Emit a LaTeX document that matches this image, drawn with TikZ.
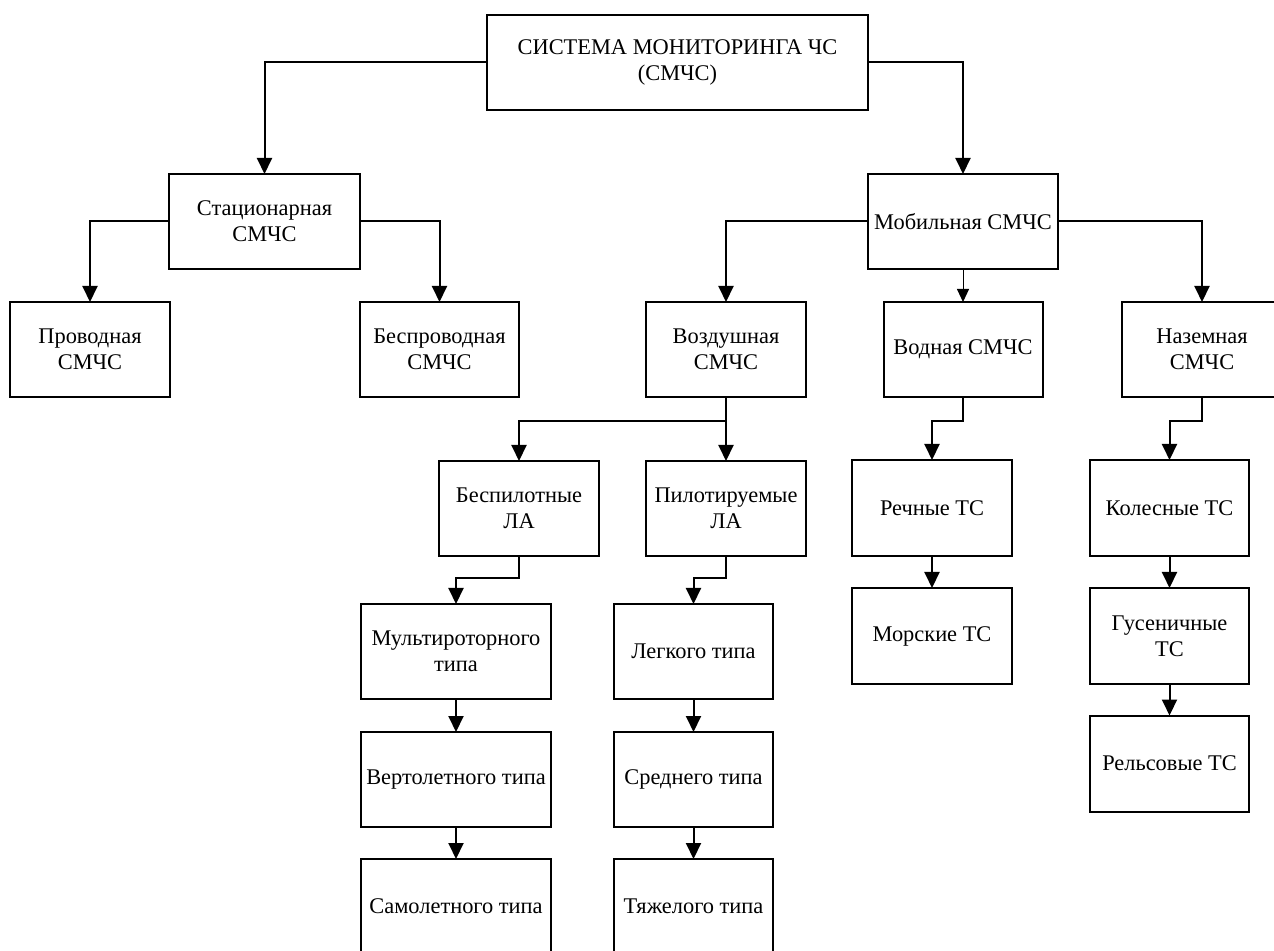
\documentclass[tikz,border=0pt]{standalone}
\usepackage{fontspec}
\setmainfont{Liberation Serif}
\usetikzlibrary{arrows.meta}
\begin{document}
\begin{tikzpicture}[x=0.5pt,y=-0.5pt,
  box/.style={draw, line width=1pt, inner sep=0pt, outer sep=0pt, align=center,
    font=\fontsize{11.2}{13}\selectfont},
  sz/.style 2 args={minimum width=#1*0.5pt, minimum height=#2*0.5pt},
  conn/.style={line width=1pt, -{Triangle[width=7.5pt,length=8pt]}},
  thinconn/.style={line width=0.5pt, -{Triangle[width=6pt,length=6.5pt]}}]
\useasboundingbox (0,0) rectangle (1274,951);
% level 0
\node[box, sz={381}{95}] (top) at (677.5,62.5) {СИСТЕМА МОНИТОРИНГА ЧС\\(СМЧС)};
% level 1
\node[box, sz={191}{95}] (stat) at (264.5,221.5) {Стационарная\\СМЧС};
\node[box, sz={190}{95}] (mob) at (963,221.5) {Мобильная СМЧС};
% level 2
\node[box, sz={160}{95}] (prov) at (90,349.5) {Проводная\\СМЧС};
\node[box, sz={159}{95}] (besp) at (439.5,349.5) {Беспроводная\\СМЧС};
\node[box, sz={160}{95}] (vozd) at (726,349.5) {Воздушная\\СМЧС};
\node[box, sz={159}{95}] (vodn) at (963,349.5) {Водная СМЧС};
\node[box, sz={160}{95}] (nazem) at (1202,349.5) {Наземная\\СМЧС};
% level 3
\node[box, sz={160}{95}] (bpla) at (519,508.5) {Беспилотные\\ЛА};
\node[box, sz={160}{95}] (pla) at (726,508.5) {Пилотируемые\\ЛА};
\node[box, sz={160}{96}] (rech) at (932,508) {Речные ТС};
\node[box, sz={159}{96}] (koles) at (1169.5,508) {Колесные ТС};
% level 4
\node[box, sz={190}{95}] (multi) at (456,651.5) {Мультироторного\\типа};
\node[box, sz={159}{95}] (legk) at (693.5,651.5) {Легкого типа};
\node[box, sz={160}{96}] (morsk) at (932,636) {Морские ТС};
\node[box, sz={159}{96}] (gus) at (1169.5,636) {Гусеничные\\ТС};
% level 5
\node[box, sz={190}{95}] (vert) at (456,779.5) {Вертолетного типа};
\node[box, sz={159}{95}] (sred) at (693.5,779.5) {Среднего типа};
\node[box, sz={159}{96}] (rels) at (1169.5,763.5) {Рельсовые ТС};
% level 6
\node[box, sz={190}{95}] (samol) at (456,906.5) {Самолетного типа};
\node[box, sz={159}{95}] (tyazh) at (693.5,906.5) {Тяжелого типа};
% connectors
\draw[conn] (top.west) -| (stat.north);
\draw[conn] (top.east) -| (mob.north);
\draw[conn] (stat.west) -| (prov.north);
\draw[conn] (stat.east) -| (besp.north);
\draw[conn] (mob.west) -| (vozd.north);
\draw[conn] (mob.east) -| (nazem.north);
\draw[thinconn] (mob.south) -- (vodn.north);
\draw[conn] (vozd.south) -- (pla.north);
\draw[conn] (vozd.south) -- ++(0,24) -| (bpla.north);
\draw[conn] (bpla.south) -- ++(0,22) -| (multi.north);
\draw[conn] (pla.south) -- ++(0,22) -| (legk.north);
\draw[conn] (vodn.south) -- ++(0,24) -| (rech.north);
\draw[conn] (nazem.south) -- ++(0,24) -| (koles.north);
\draw[conn] (multi) -- (vert);
\draw[conn] (vert) -- (samol);
\draw[conn] (legk) -- (sred);
\draw[conn] (sred) -- (tyazh);
\draw[conn] (rech) -- (morsk);
\draw[conn] (koles) -- (gus);
\draw[conn] (gus) -- (rels);
\end{tikzpicture}
\end{document}
